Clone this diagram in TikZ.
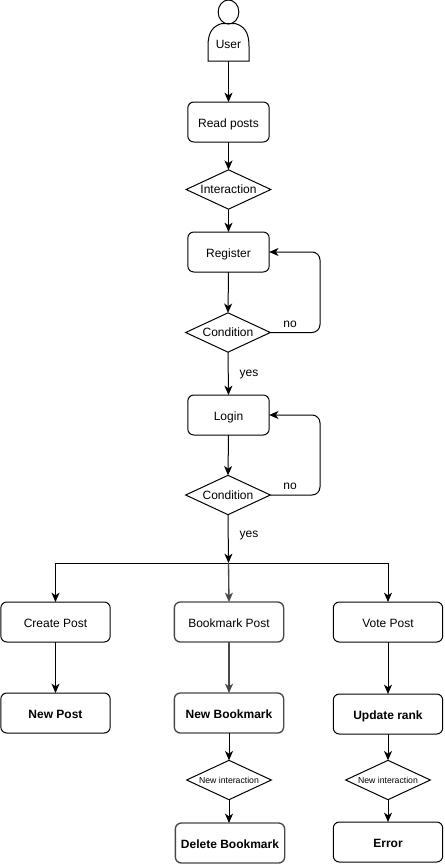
\documentclass[tikz,border=0pt]{standalone}
\usepackage{fontspec}
\setmainfont{Liberation Sans}
\usetikzlibrary{shapes.geometric,arrows.meta,calc}
\tikzset{
  x=0.75pt,y=-0.75pt,
  every node/.style={font=\fontsize{9pt}{11pt}\selectfont,inner sep=0pt,outer sep=0pt},
  box/.style={draw,line width=0.75pt,rounded corners=4.5pt,minimum width=61pt,minimum height=30pt,text height=8pt,text depth=0pt},
  wide/.style={draw,line width=0.75pt,rounded corners=4.5pt,minimum width=82pt,minimum height=30pt,text height=8pt,text depth=0pt},
  boldbox/.style={wide,font=\fontsize{9pt}{11pt}\selectfont\bfseries},
  softbox/.style={draw=black!72,line width=1pt},
  choice/.style={draw,line width=0.75pt,diamond,aspect=2.15,minimum width=63.5pt,minimum height=29.5pt},
  small/.style={choice,font=\fontsize{6.5pt}{8pt}\selectfont},
  link/.style={draw,line width=0.75pt,-{Stealth[length=7pt,width=6pt,inset=2pt]}},
  softlink/.style={link,draw=black!72,line width=1pt},
  lab/.style={font=\fontsize{9pt}{11pt}\selectfont}
}
\begin{document}
\begin{tikzpicture}
\useasboundingbox (0,0) rectangle (444,864);
\fill[white] (0,0) rectangle (444,864);
% user
\node[draw,line width=0.75pt,ellipse,minimum width=15.5pt,minimum height=18pt] (head) at (228.5,12) {};
\node[minimum width=30.75pt,minimum height=27pt,text height=8pt,text depth=0pt] (user) at (228.5,43) {User};
\draw[line width=0.75pt] (user.south west) -- (208,46) .. controls (208,32) and (213,26) .. (222,23.5) -- (235,23.5) .. controls (244,26) and (249,32) .. (249,46) -- (user.south east) -- cycle;
% main column
\node[box] (read) at (228.5,122) {Read posts};
\node[choice] (inter) at (228.5,189.5) {Interaction};
\node[box] (reg) at (228.5,252) {Register};
\node[choice] (cond1) at (228,332.5) {Condition};
\node[box] (login) at (228.5,415) {Login};
\node[choice] (cond2) at (228,495) {Condition};
\coordinate (split) at (228.5,563);
% lower row
\node[wide] (create) at (55.5,622) {Create Post};
\node[wide,softbox] (bookmark) at (229,622) {Bookmark Post};
\node[wide] (vote) at (388,622) {Vote Post};
\node[boldbox] (newpost) at (55.5,713) {New Post};
\node[boldbox,softbox] (newbm) at (229,713) {New Bookmark};
\node[boldbox] (rank) at (388,714) {Update rank};
\node[small] (ni1) at (229,780) {New interaction};
\node[small] (ni2) at (388,780) {New interaction};
\node[boldbox,softbox] (delbm) at (230,843) {Delete Bookmark};
\node[boldbox] (err) at (388,842) {Error};
% links
\path[link] (user.south) -- (read.north);
\path[link] (read.south) -- (inter.north);
\path[link] (inter.south) -- (reg.north);
\path[link] (reg.south) -- (cond1.north);
\path[link] (cond1.south) -- (login.north);
\path[link] (login.south) -- (cond2.north);
\path[link] (cond2.south) -- (split);
\path[link,rounded corners=6pt] (cond1.east) -- (320,332.5) -- (320,252) -- (reg.east);
\path[link,rounded corners=6pt] (cond2.east) -- (320,495) -- (320,415) -- (login.east);
\path[link] (split) -| (create.north);
\path[link] (split) -| (vote.north);
\path[softlink] (split) -- (bookmark.north);
\path[link] (create.south) -- (newpost.north);
\path[softlink] (bookmark.south) -- (newbm.north);
\path[link] (vote.south) -- (rank.north);
\path[link] (newbm.south) -- (ni1.north);
\path[link] (ni1.south) -- (delbm.north -| ni1.south);
\path[link] (rank.south) -- (ni2.north);
\path[link] (ni2.south) -- (err.north);
% labels
\node[lab] (no1) at (290,324) {no};
\node[lab] (yes1) at (249,375) {yes};
\node[lab] (no2) at (290,486.5) {no};
\node[lab] (yes2) at (249,535.5) {yes};
\end{tikzpicture}
\end{document}
